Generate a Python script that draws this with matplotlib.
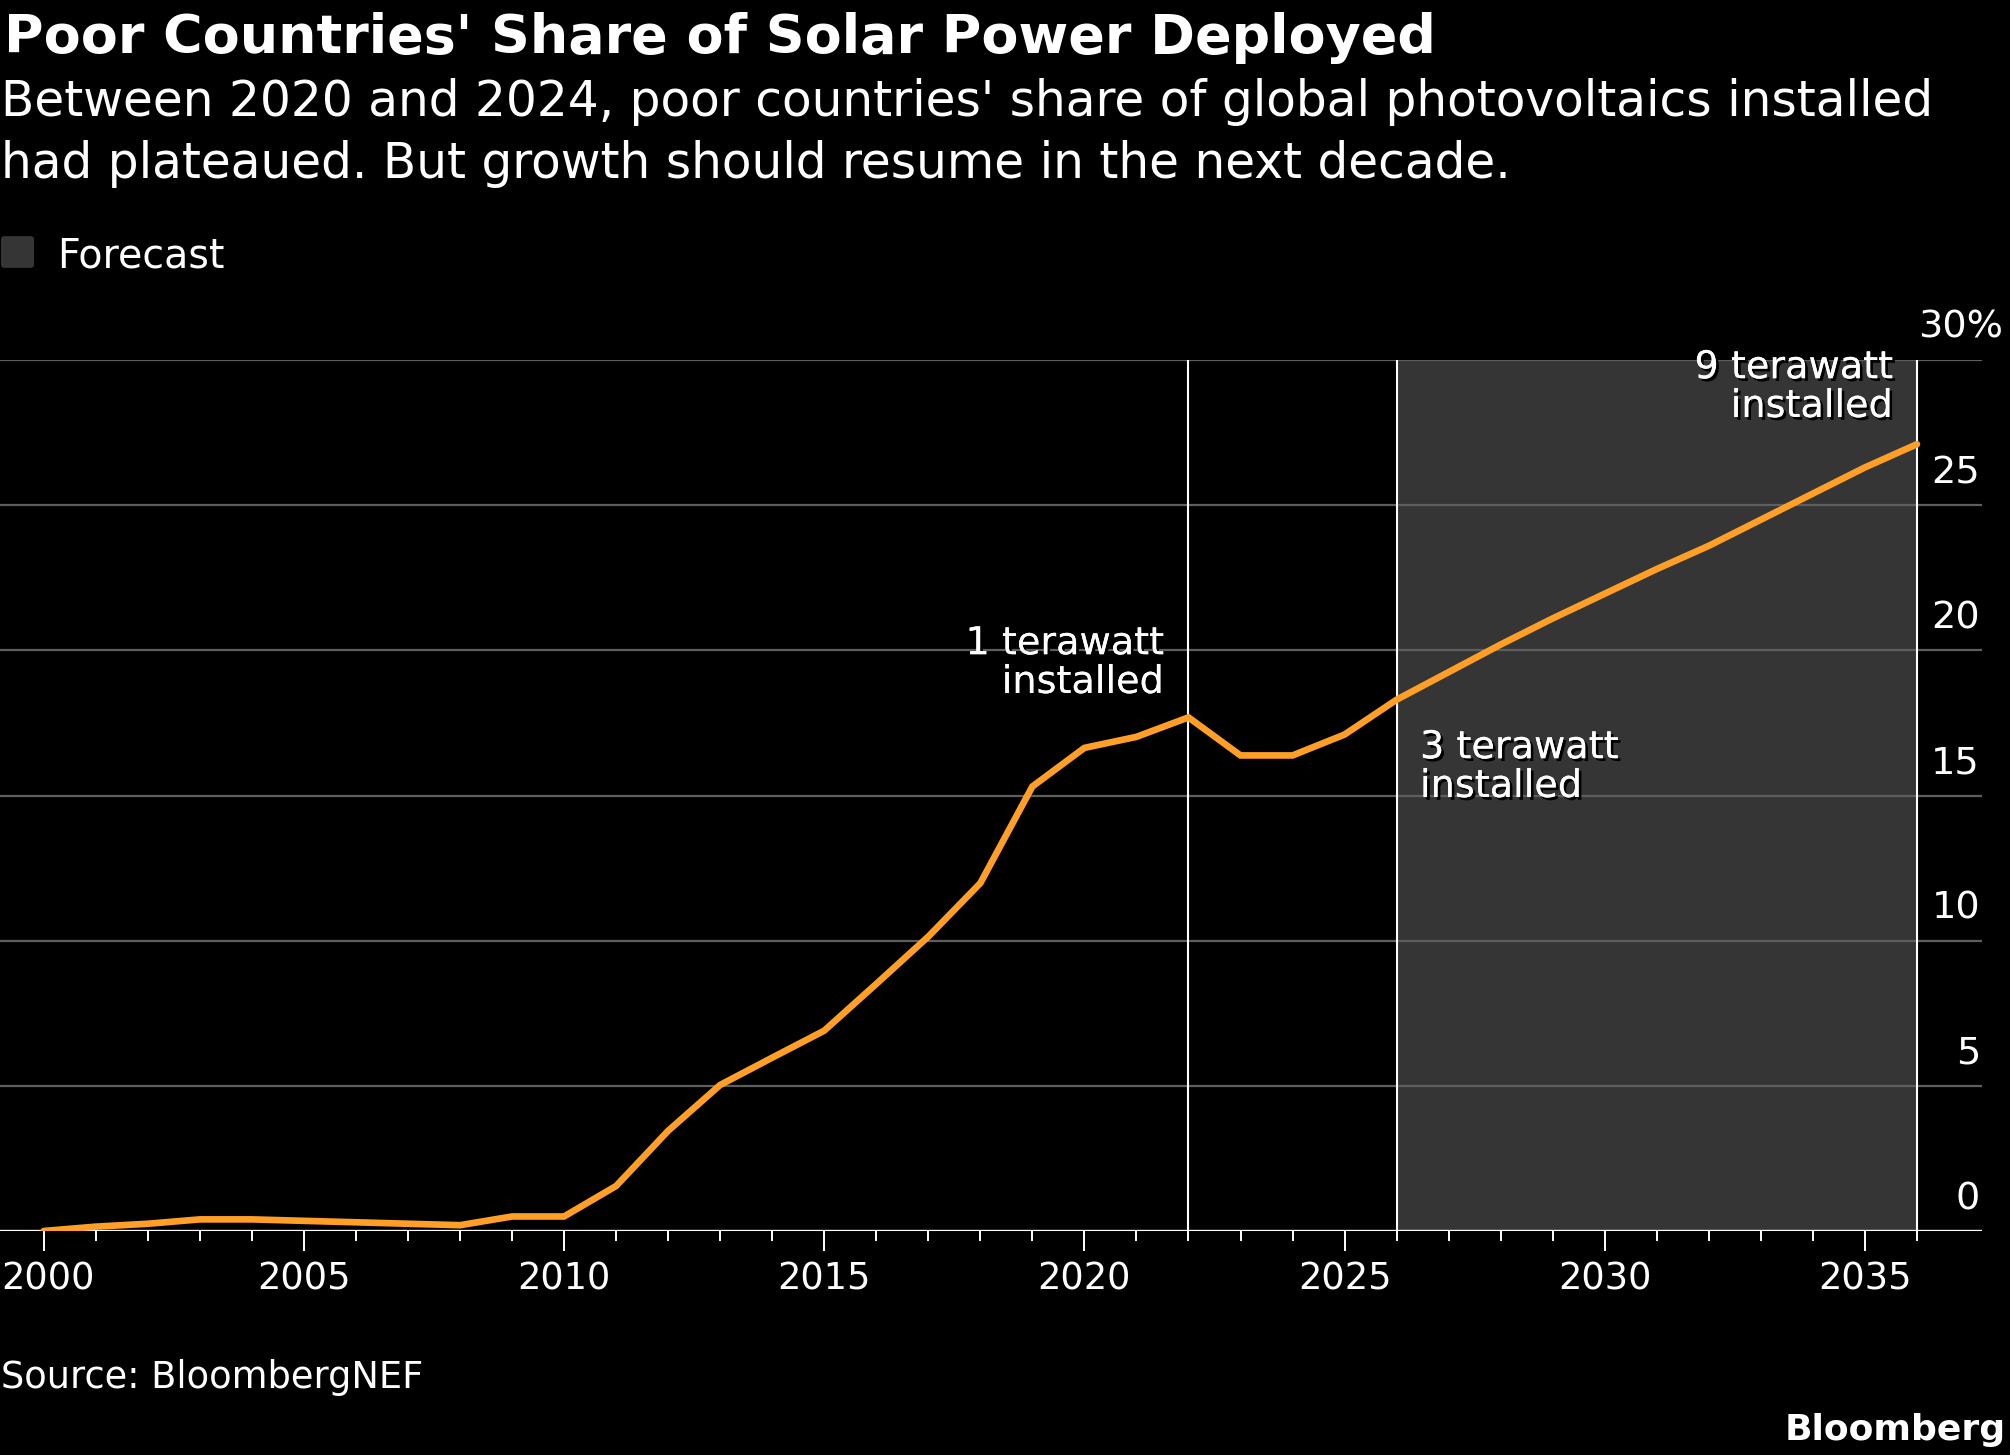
import matplotlib
matplotlib.use('Agg')
import matplotlib.pyplot as plt
import matplotlib.patheffects as pe
import matplotlib.transforms as mtrans
from matplotlib.patches import FancyBboxPatch

# data (share of global PV installed, %)
years = list(range(2000, 2037))
share = [0.0, 0.15, 0.25, 0.4, 0.4, 0.35, 0.3, 0.25, 0.2, 0.5, 0.5,
         1.55, 3.45, 5.03, 5.97, 6.9, 8.51, 10.14, 11.98, 15.31, 16.64,
         17.02, 17.69, 16.38, 16.38, 17.1, 18.3, 19.25, 20.2, 21.1, 21.95,
         22.8, 23.6, 24.5, 25.4, 26.3, 27.1]
yticks = [0, 5, 10, 15, 20, 25, 30]
major_years = [2000, 2005, 2010, 2015, 2020, 2025, 2030, 2035]
forecast_start, forecast_end = 2026, 2036
marker_years = [2022, 2026, 2036]
notes = ['1 terawatt\ninstalled', '3 terawatt\ninstalled', '9 terawatt\ninstalled']

W, H = 2010, 1455
plt.rcParams['font.family'] = ['DejaVu Sans']

fig = plt.figure(figsize=(W / 100, H / 100), dpi=100, facecolor='black')

def fx(px):
    return px / W

def fy(py):
    return 1 - py / H

# axes: x=0..1982 px, y 0 at 1231 px, 30 at 360 px
ax = fig.add_axes([0, fy(1231), fx(1982), (1231 - 360) / H])
ax.set_facecolor('black')
ax.set_xlim(1999.16, 2037.25)
ax.set_ylim(0, 30)
for s in ax.spines.values():
    s.set_visible(False)

ax.axvspan(forecast_start, forecast_end, color='#353535', zorder=0, lw=0)
for v in yticks[1:]:
    ax.axhline(v, color='#5e5e5e', lw=1.6, zorder=1)
ax.vlines(marker_years, 0, 30, color='white', lw=1.5, zorder=2)
ax.axhline(0, color='white', lw=2.4, zorder=3)
ax.plot(years, share, color='#ff9f27', lw=4.8, zorder=4,
        solid_joinstyle='miter', solid_capstyle='round')

ax.set_xticks(major_years)
ax.set_xticks([y for y in years if y not in major_years], minor=True)
ax.tick_params(axis='x', which='major', length=14.5, width=1.4, color='white',
               labelcolor='white', labelsize=26.5, pad=7)
ax.tick_params(axis='x', which='minor', length=7.5, width=1.4, color='white')
ax.set_yticks([])

# keep the first year label inside the left edge
first = ax.get_xticklabels()[0]
first.set_transform(first.get_transform() +
                    mtrans.ScaledTranslation(4 / 100, 0, fig.dpi_scale_trans))

# right-hand value labels sitting above the gridlines
lab_tr = mtrans.blended_transform_factory(fig.transFigure, ax.transData)
off = mtrans.ScaledTranslation(0, 22 / 100, fig.dpi_scale_trans)
for v in yticks[:-1]:
    ax.text(fx(1980), v, str(v), transform=lab_tr + off, ha='right',
            va='baseline', color='white', fontsize=27.5)
ax.text(fx(2003), 30, '30%', transform=lab_tr + off, ha='right',
        va='baseline', color='white', fontsize=27.5)

# annotations with a dark drop shadow
shadow = [pe.withSimplePatchShadow(offset=(2, -2), shadow_rgbFace='black', alpha=1.0),
          pe.Normal()]
fig.text(fx(1164), fy(693), notes[0], ha='right', va='baseline',
         color='white', fontsize=27.5, linespacing=1.1, path_effects=shadow)
fig.text(fx(1420), fy(797), notes[1], ha='left', va='baseline',
         color='white', fontsize=27.5, linespacing=1.1, path_effects=shadow)
fig.text(fx(1893), fy(417), notes[2], ha='right', va='baseline',
         color='white', fontsize=27.5, linespacing=1.1, path_effects=shadow)

# title block
fig.text(fx(4), fy(53), "Poor Countries' Share of Solar Power Deployed",
         color='white', fontsize=38.8, fontweight='bold', va='baseline')
fig.text(fx(1), fy(116), "Between 2020 and 2024, poor countries' share of global photovoltaics installed",
         color='white', fontsize=35, va='baseline')
fig.text(fx(1), fy(178), "had plateaued. But growth should resume in the next decade.",
         color='white', fontsize=35, va='baseline')

# legend
fig.patches.append(FancyBboxPatch((fx(5), fy(265)), fx(25), (265 - 239) / H,
                                  boxstyle='round,pad=0.002', fc='#353535',
                                  ec='none', transform=fig.transFigure))
fig.text(fx(57), fy(267), 'Forecast', color='white', fontsize=28.5, va='baseline')

# footer
fig.text(fx(1), fy(1388), 'Source: BloombergNEF', color='white', fontsize=26.5,
         va='baseline')
fig.text(fx(2006), fy(1440), 'Bloomberg', color='white', fontsize=26,
         fontweight='bold', ha='right', va='baseline')

fig.savefig('out.png', dpi=100, facecolor='black')
